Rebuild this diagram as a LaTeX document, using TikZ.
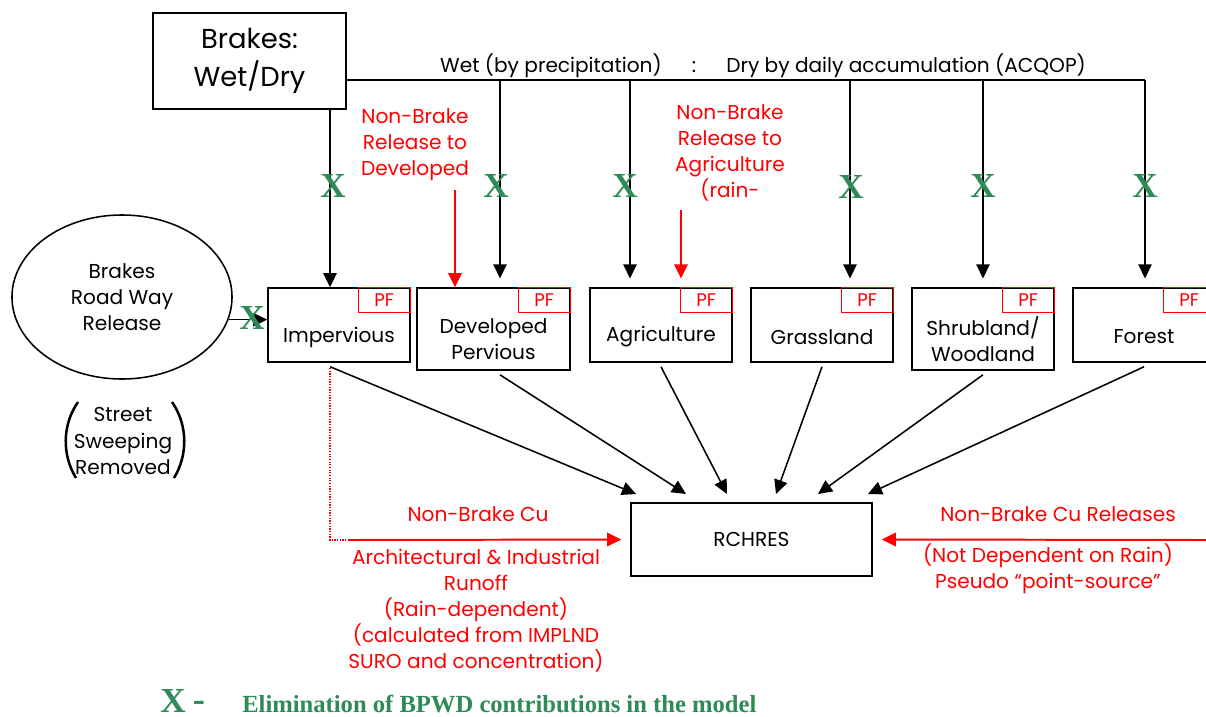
\documentclass[tikz,border=0pt]{standalone}
\usepackage{fontspec}
\setmainfont{Poppins}
\newfontfamily\serifbf{Liberation Serif}
\usetikzlibrary{arrows.meta,shapes.geometric}
\definecolor{xgreen}{RGB}{46,139,87}

\tikzset{
    box/.style={draw, line width=1.1pt, minimum width=3.55cm, minimum height=1.85cm},
    lbl/.style={font=\fontsize{14.3}{18.5}\selectfont, align=center},
    pfbox/.style={draw=red, line width=0.9pt, text=red, font=\fontsize{13}{14}\selectfont, minimum width=1.3cm, minimum height=0.62cm, inner sep=0pt, anchor=north east},
    redlbl/.style={lbl, text=red},
    xmark/.style={text=xgreen, font=\serifbf\bfseries\fontsize{25}{25}\selectfont, inner sep=0pt},
    blk/.style={line width=1.1pt, -{Triangle[length=10pt,width=9.5pt]}},
    redarr/.style={red, line width=1.4pt, -{Triangle[length=10pt,width=9.5pt]}}
}

\begin{document}
\begin{tikzpicture}[x=0.025cm, y=-0.025cm]
        \useasboundingbox (0,0) rectangle (1206,717);

        % Bremsen oben
        \node[draw, line width=1.1pt, minimum width=4.83cm, minimum height=2.4cm, align=center,
              font=\fontsize{19.5}{26.5}\selectfont] (brk) at (249.5,61) {Brakes:\\Wet/Dry};
        \coordinate (wl) at (346,80);
        \coordinate (wr) at (1145,80);
        \draw[line width=1.1pt] (wl) -- (wr);
        \node[lbl] (wd) at (763,66) {Wet (by precipitation)\hspace{1.5em}:\hspace{1.5em}Dry by daily accumulation (ACQOP)};

        % Landnutzung
        \node[box] (imp) at (339,325) {};
        \node[box, minimum width=3.83cm, minimum height=2.05cm] (dp) at (493.5,329) {};
        \node[box] (agr) at (661,325) {};
        \node[box] (gra) at (822,325) {};
        \node[box, minimum height=2.05cm] (shr) at (983,329) {};
        \node[box] (for) at (1144,325) {};

        \node[lbl] (imp-t) at (339,337) {Impervious};
        \node[lbl] (dp-t) at (493.5,339) {Developed\\Pervious};
        \node[lbl] (agr-t) at (661,337) {Agriculture};
        \node[lbl] (gra-t) at (822,337) {Grassland};
        \node[lbl] (shr-t) at (983,339) {Shrubland/\\Woodland};
        \node[lbl] (for-t) at (1144,337) {Forest};

        % PF Kaestchen
        \node[pfbox] (pf1) at (imp.north east) {PF};
        \node[pfbox] (pf2) at (dp.north east) {PF};
        \node[pfbox] (pf3) at (agr.north east) {PF};
        \node[pfbox] (pf4) at (gra.north east) {PF};
        \node[pfbox] (pf5) at (shr.north east) {PF};
        \node[pfbox] (pf6) at (for.north east) {PF};

        % senkrechte Pfeile
        \draw[blk] (brk.south -| 330,0) -- (imp.north -| 330,0);
        \coordinate (d2) at (500,80);
        \coordinate (d3) at (630,80);
        \coordinate (d4) at (850,80);
        \coordinate (d5) at (983,80);
        \coordinate (d6) at (1145,80);
        \draw[blk, shorten >=0.22cm] (d2) -- (d2 |- dp.north);
        \draw[blk, shorten >=0.22cm] (d3) -- (d3 |- agr.north);
        \draw[blk, shorten >=0.22cm] (d4) -- (d4 |- gra.north);
        \draw[blk, shorten >=0.22cm] (d5) -- (d5 |- shr.north);
        \draw[blk, shorten >=0.22cm] (d6) -- (d6 |- for.north);

        % Kreuze
        \node[xmark] (x1) at (333,186) {X};
        \node[xmark] (x2) at (496,186) {X};
        \node[xmark] (x3) at (625,186) {X};
        \node[xmark] (x4) at (851,187) {X};
        \node[xmark] (x5) at (983,186) {X};
        \node[xmark] (x6) at (1145,186) {X};

        % rote Einträge oben
        \node[redlbl] (nbd) at (415,145) {Non-Brake\\Release to\\Developed};
        \coordinate (rd) at (455,190);
        \draw[redarr] (rd) -- (rd |- dp.north);
        \node[redlbl] (nba) at (730,153) {Non-Brake\\Release to\\Agriculture\\(rain-};
        \coordinate (ra) at (681,210);
        \draw[redarr, shorten >=0.22cm] (ra) -- (ra |- agr.north);

        % Strasse
        \node[draw, ellipse, line width=1.1pt, minimum width=5.5cm, minimum height=4.1cm, lbl] (brw) at (122,297) {Brakes\\Road Way\\Release};
        \draw[blk] (brw.-12) -- (brw.-12 -| imp.west);
        \node[xmark] (x0) at (252,318) {X};
        \node[lbl] (sw) at (123,441) {Street\\Sweeping\\Removed};
        \draw[line width=1.8pt] (78,402) .. controls (62,425) and (62,455) .. (76,478);
        \draw[line width=1.8pt] (172,402) .. controls (188,425) and (188,455) .. (174,478);

        % RCHRES
        \node[draw, line width=1.1pt, minimum width=6.03cm, minimum height=1.83cm, lbl] (rch) at (751.5,539.5) {RCHRES};
        \coordinate (r1) at (636,494);
        \coordinate (r2) at (686,494);
        \coordinate (r3) at (727,494);
        \coordinate (r4) at (776,494);
        \coordinate (r5) at (818,494);
        \coordinate (r6) at (868,494);
        \draw[blk] ([xshift=-0.22cm, yshift=-0.1cm]imp.south) -- (r1);
        \draw[blk] ([xshift=0.16cm, yshift=-0.1cm]dp.south) -- (r2);
        \draw[blk] ([yshift=-0.1cm]agr.south) -- (r3);
        \draw[blk] ([yshift=-0.1cm]gra.south) -- (r4);
        \draw[blk] ([yshift=-0.1cm]shr.south) -- (r5);
        \draw[blk] ([yshift=-0.1cm]for.south) -- (r6);

        % Nicht-Bremsen Kupfer links
        \coordinate (dl) at (330,368);
        \coordinate (dk) at (330,540);
        \coordinate (al) at (348,540);
        \draw[red, densely dotted, line width=0.9pt] (dl) -- (dk) -- (al);
        \draw[redarr, shorten >=0.22cm] (al) -- (rch.west);
        \node[redlbl] (nbc) at (478,514) {Non-Brake Cu};
        \node[redlbl, anchor=north] (arch) at (476,544) {Architectural \& Industrial\\Runoff\\(Rain-dependent)\\(calculated from IMPLND\\SURO and concentration)};

        % rechts
        \coordinate (ar) at (1206,540);
        \draw[redarr, shorten >=0.22cm] (ar) -- (rch.east);
        \node[redlbl] (nbr) at (1058,514) {Non-Brake Cu Releases};
        \node[redlbl] (nd) at (1048,569) {(Not Dependent on Rain)\\Pseudo “point-source”};

        % Legende
        \node[xmark] (lx) at (173,701) {X};
        \node[text=xgreen, font=\serifbf\bfseries\fontsize{26}{26}\selectfont, inner sep=0pt] (ld) at (199,706) {-};
        \node[anchor=west, text=xgreen, font=\serifbf\bfseries\fontsize{17.5}{18}\selectfont, inner sep=0pt] (lt) at (242,704) {Elimination of BPWD contributions in the model};
    \end{tikzpicture}
\end{document}
